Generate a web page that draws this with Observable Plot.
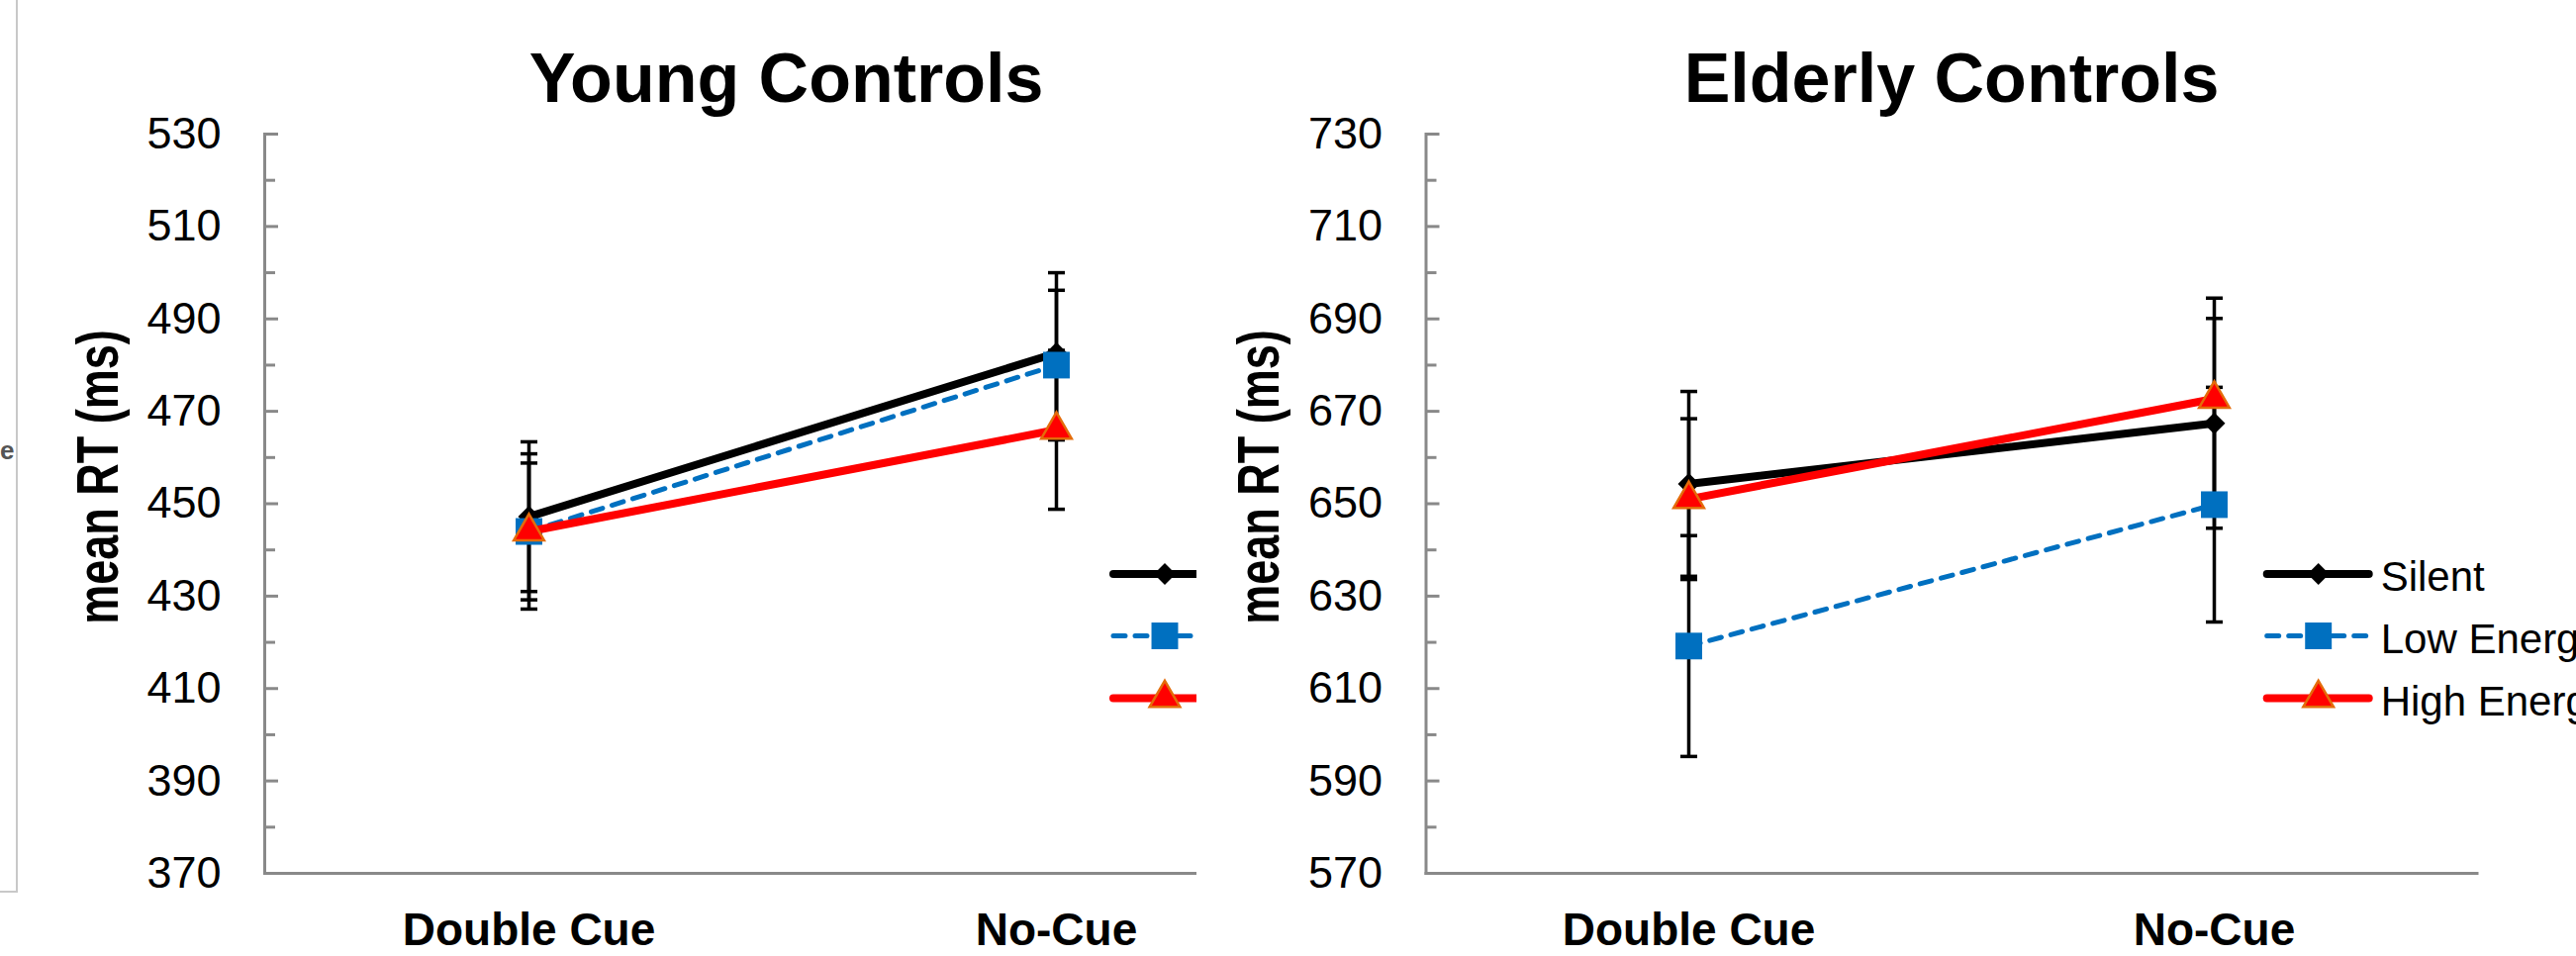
<!DOCTYPE html>
<html>
<head>
<meta charset="utf-8">
<script src="https://cdn.jsdelivr.net/npm/d3@7"></script>
<script src="https://cdn.jsdelivr.net/npm/@observablehq/plot@0.6"></script>
<style>
  html, body { margin: 0; padding: 0; background: #fff; overflow: hidden; width: 2603px; height: 966px; }
  #root { position: relative; width: 2603px; height: 966px; overflow: hidden; font-family: "Liberation Sans", Arial, sans-serif; }
  #left { position: absolute; left: 0; top: 0; width: 1209px; height: 966px; overflow: hidden; }
  #right { position: absolute; left: 1209px; top: 0; width: 1394px; height: 966px; overflow: hidden; background: #fff; }
  #left svg, #right svg { position: absolute; left: 0; top: 0; }
  #edgebox { position: absolute; left: -10px; top: -10px; width: 24px; height: 908px; border: 2px solid #c8c8c8; }
  #edgee { position: absolute; left: 0px; top: 440px; font: bold 26px "Liberation Sans", Arial, sans-serif; color: #555; }
</style>
</head>
<body>
<div id="root">
  <div id="left"><div id="edgebox"></div><div id="edgee">e</div></div>
  <div id="right"></div>
</div>
<script>
// ---------------- data ----------------
const categories = ["Double Cue", "No-Cue"];
const seriesNames = ["Silent", "Low Energy", "High Energy"];

const youngSilent = [447.2, 482.6];
const youngLow = [444.0, 480.0];
const youngHigh = [444.0, 466.0];
const youngSilentErr = [16.2, 17.4];
const youngLowErr = [16.8, 16.2];
const youngHighErr = [14.8, 17.2];

const elderlySilent = [654.3, 667.4];
const elderlyLow = [619.2, 649.8];
const elderlyHigh = [651.0, 672.7];
const elderlySilentErr = [20.0, 22.7];
const elderlyLowErr = [23.9, 25.4];
const elderlyHighErr = [17.4, 21.8];

const youngTicks = [370, 390, 410, 430, 450, 470, 490, 510, 530];
const youngMinorTicks = [380, 400, 420, 440, 460, 480, 500, 520];
const elderlyTicks = [570, 590, 610, 630, 650, 670, 690, 710, 730];
const elderlyMinorTicks = [580, 600, 620, 640, 660, 680, 700, 720];

const yLabel = "mean RT (ms)";

// ---------------- styles ----------------
const axisGray = "#898989";
const styles = {
  "Silent":      {stroke: "#000000", width: 8, dash: null,    symbol: "diamond2", d3symbol: d3.symbolDiamond2, r: 9.9,  fill: "#000000", mstroke: "none",    msw: 0},
  "Low Energy":  {stroke: "#0070C0", width: 5, dash: "12,10", symbol: "square",   d3symbol: d3.symbolSquare,   r: 15.2, fill: "#0070C0", mstroke: "none",    msw: 0},
  "High Energy": {stroke: "#FF0000", width: 8, dash: null,    symbol: "triangle", d3symbol: d3.symbolTriangle, r: 11.4, fill: "#FF0000", mstroke: "#E46C0A", msw: 2.5}
};
const capSymbol = {
  draw(context, size) {
    const w = Math.sqrt(size) / 2;
    context.moveTo(-w, 0);
    context.lineTo(w, 0);
  }
};

function buildRows(meanArrays, errArrays) {
  const rows = [];
  seriesNames.forEach((name, si) => {
    categories.forEach((cat, ci) => {
      rows.push({series: name, cat, mean: meanArrays[si][ci], err: errArrays[si][ci]});
    });
  });
  return rows;
}

function panel({title, means, errs, ticks, minor, width, marginLeft, marginRight, titleDx}) {
  const data = buildRows(means, errs);
  const caps = data.flatMap(d => [{cat: d.cat, v: d.mean - d.err}, {cat: d.cat, v: d.mean + d.err}]);
  const seriesMarks = seriesNames.flatMap(name => {
    const st = styles[name];
    const d = data.filter(r => r.series === name);
    return [
      Plot.line(d, {x: "cat", y: "mean", stroke: st.stroke, strokeWidth: st.width,
        strokeDasharray: st.dash, strokeLinecap: "round", strokeLinejoin: "round"}),
      Plot.dot(d, {x: "cat", y: "mean", symbol: st.symbol, r: st.r, fill: st.fill,
        stroke: st.mstroke, strokeWidth: st.msw})
    ];
  });
  const svg = Plot.plot({
    width, height: 966,
    marginTop: 135, marginBottom: 84, marginLeft, marginRight,
    style: {fontFamily: "Liberation Sans, Arial, sans-serif", maxWidth: "none", background: "transparent", overflow: "visible"},
    x: {type: "point", domain: categories, padding: 0.5},
    y: {domain: [ticks[0], ticks[ticks.length - 1]]},
    marks: [
      Plot.frame({anchor: "left", stroke: axisGray, strokeWidth: 3}),
      Plot.frame({anchor: "bottom", stroke: axisGray, strokeWidth: 3}),
      Plot.axisY({ticks, tickSize: -14, fill: "none", stroke: axisGray, strokeWidth: 3, label: null}),
      Plot.axisY({ticks: minor, tickSize: -11, fill: "none", stroke: axisGray, strokeWidth: 3, label: null}),
      Plot.axisY({ticks, tickSize: 0, tickPadding: 44, fontSize: 45, fill: "#000", label: null, tickFormat: d => String(d)}),
      Plot.axisX({tickSize: 0, tickPadding: 40, fontSize: 46, fontWeight: "bold", fill: "#000", label: null}),
      Plot.ruleX(data, {x: "cat", y1: d => d.mean - d.err, y2: d => d.mean + d.err, stroke: "#000", strokeWidth: 3.5}),
      Plot.dot(caps, {x: "cat", y: "v", symbol: capSymbol, r: 9.6, stroke: "#000", strokeWidth: 3.5, fill: "none"}),
      ...seriesMarks,
      Plot.text([title], {text: d => d, frameAnchor: "top", lineAnchor: "middle", textAnchor: "middle",
        dy: -55, dx: titleDx, fontSize: 70, fontWeight: "bold", fill: "#000"}),
      Plot.text([yLabel], {text: d => d, frameAnchor: "left", textAnchor: "middle", lineAnchor: "middle",
        rotate: -90, dx: -168, dy: -27, fontSize: 60, fontWeight: "bold", fill: "#000"})
    ]
  });
  // compress the rotated axis title along its length
  svg.querySelectorAll("text").forEach(t => {
    if (t.textContent === yLabel) {
      const tr = t.getAttribute("transform") || "";
      t.setAttribute("transform", tr + " scale(0.75,1)");
    }
  });
  return svg;
}

function legend(container, x0, showText, w) {
  const svg = d3.select(container).append("svg")
    .attr("width", w).attr("height", 966)
    .style("position", "absolute").style("left", "0px").style("top", "0px")
    .style("overflow", "hidden");
  const rowY = [580, 642.5, 705.5];
  seriesNames.forEach((name, i) => {
    const st = styles[name];
    const y = rowY[i];
    svg.append("line")
      .attr("x1", x0).attr("x2", x0 + 103).attr("y1", y).attr("y2", y)
      .attr("stroke", st.stroke).attr("stroke-width", st.width)
      .attr("stroke-linecap", "round")
      .attr("stroke-dasharray", st.dash);
    svg.append("path")
      .attr("transform", `translate(${x0 + 52},${y})`)
      .attr("d", d3.symbol().type(st.d3symbol).size(Math.PI * st.r * st.r)())
      .attr("fill", st.fill).attr("stroke", st.mstroke).attr("stroke-width", st.msw);
    if (showText) {
      svg.append("text")
        .attr("x", x0 + 115).attr("y", y + 17)
        .attr("font-family", "Liberation Sans, Arial, sans-serif")
        .attr("font-size", 42).attr("fill", "#000")
        .text(name);
    }
  });
}

const leftEl = document.getElementById("left");
const rightEl = document.getElementById("right");

leftEl.appendChild(panel({
  title: "Young Controls",
  means: [youngSilent, youngLow, youngHigh],
  errs: [youngSilentErr, youngLowErr, youngHighErr],
  ticks: youngTicks, minor: youngMinorTicks,
  width: 1433, marginLeft: 267, marginRight: 100, titleDx: -6
}));
legend(leftEl, 1125, false, 1209);

rightEl.appendChild(panel({
  title: "Elderly Controls",
  means: [elderlySilent, elderlyLow, elderlyHigh],
  errs: [elderlySilentErr, elderlyLowErr, elderlyHighErr],
  ticks: elderlyTicks, minor: elderlyMinorTicks,
  width: 1394, marginLeft: 231.5, marginRight: 100.5, titleDx: 0
}));
legend(rightEl, 1081.7, true, 1394);
</script>
</body>
</html>
